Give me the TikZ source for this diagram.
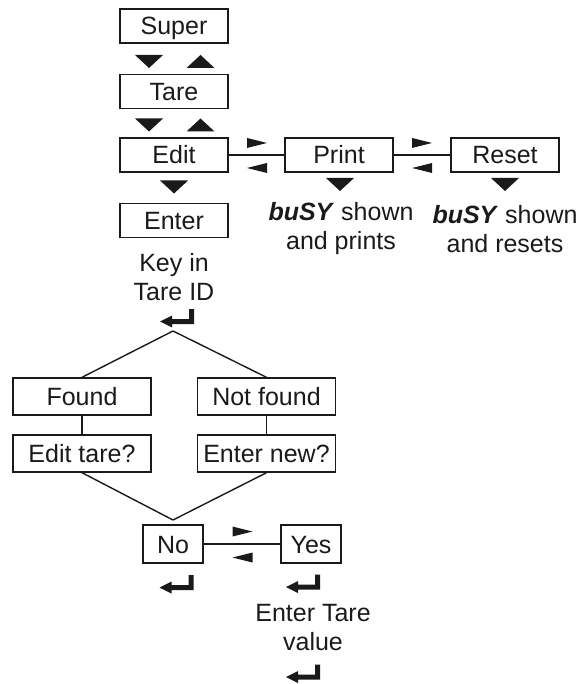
\documentclass[tikz,border=0pt]{standalone}
\usepackage{fontspec}
\setmainfont{Liberation Sans}
\definecolor{menuInk}{HTML}{1A1A1A}

\begin{document}
\begin{tikzpicture}[x=1pt, y=-1pt,
  menufont/.style={font=\fontsize{25}{29}\selectfont, text=menuInk},
  menubox/.style={menufont, draw=menuInk, line width=1.4pt, fill=white, inner sep=0pt,
    minimum width=108pt, minimum height=34pt, text height=18pt, text depth=0pt},
  widebox/.style={menubox, minimum width=138pt, minimum height=37pt},
  smallbox/.style={menubox, minimum width=60pt, minimum height=38pt},
  note/.style={menufont, align=center, inner sep=0pt},
  link/.style={draw=menuInk, line width=1.4pt}]
  \useasboundingbox (0,0) rectangle (580,684);
  % Marker shapes (down, up, right, left, return key)
  \newcommand{\shapedown}[2]{\fill[menuInk] (#1-14,#2-6.5) -- (#1+14,#2-6.5) -- (#1,#2+6.5) -- cycle;}
  \newcommand{\shapeup}[2]{\fill[menuInk] (#1-14,#2+6.5) -- (#1+14,#2+6.5) -- (#1,#2-6.5) -- cycle;}
  \newcommand{\shaperight}[2]{\fill[menuInk] (#1-10,#2-5) -- (#1-10,#2+5) -- (#1+10,#2) -- cycle;}
  \newcommand{\shapeleft}[2]{\fill[menuInk] (#1+10,#2-5) -- (#1+10,#2+5) -- (#1-10,#2) -- cycle;}
  \newcommand{\shapereturn}[2]{\fill[menuInk] (#1+17,#2-9) -- (#1+17,#2+6) -- (#1-5,#2+6) -- (#1-5,#2+9.5)
    -- (#1-17,#2+3.5) -- (#1-5,#2-2.5) -- (#1-5,#2+1) -- (#1+12,#2+1) -- (#1+12,#2-9) -- cycle;}
  % Menu column
  \node[menubox] (super) at (174,26) {Super};
  \node[menubox] (tare) at (174,91.5) {Tare};
  \node[menubox] (edit) at (174,155) {Edit};
  \node[menubox] (enter) at (174,220.5) {Enter};
  \node[menubox] (print) at (339,155) {Print};
  \node[menubox] (reset) at (505,155) {Reset};
  \node[note] (keyin) at (174,277.5) {Key in\\Tare ID};
  \node[note] (busyprint) at (341,229) {\textbf{\textit{buSY}} shown\\and prints};
  \node[note] (busyreset) at (505,229) {\textbf{\textit{buSY}} shown\\and resets};
  \draw[link] (edit) -- (print);
  \draw[link] (print) -- (reset);
  \shapedown{149}{61.5}
  \shapeup{200.5}{61.5}
  \shapedown{149}{125}
  \shapeup{200.5}{125}
  \shapedown{174}{187}
  \shapedown{340}{184.5}
  \shapedown{505}{184.5}
  \shaperight{257}{143}
  \shapeleft{257}{168}
  \shaperight{422}{143}
  \shapeleft{422}{168}
  \shapereturn{177}{318}
  % Tare lookup
  \coordinate (topfork) at (173,331);
  \coordinate (botfork) at (173,520);
  \node[widebox] (found) at (82,396.5) {Found};
  \node[widebox] (notfound) at (266.5,396.5) {Not found};
  \node[widebox] (edittare) at (82,453.5) {Edit tare?};
  \node[widebox] (enternew) at (266.5,453.5) {Enter new?};
  \node[smallbox] (no) at (173,544) {No};
  \node[smallbox] (yes) at (311,544) {Yes};
  \node[note] (entertare) at (313,627.5) {Enter Tare\\value};
  \draw[link] (topfork) -- (found.north);
  \draw[link] (topfork) -- (notfound.north);
  \draw[link] (found) -- (edittare);
  \draw[link] (notfound) -- (enternew);
  \draw[link] (edittare.south) -- (botfork);
  \draw[link] (enternew.south) -- (botfork);
  \draw[link] (no) -- (yes);
  \shaperight{242.5}{531.5}
  \shapeleft{242.5}{557.5}
  \shapereturn{176.5}{584}
  \shapereturn{303}{583.5}
  \shapereturn{303}{673.5}
\end{tikzpicture}
\end{document}
